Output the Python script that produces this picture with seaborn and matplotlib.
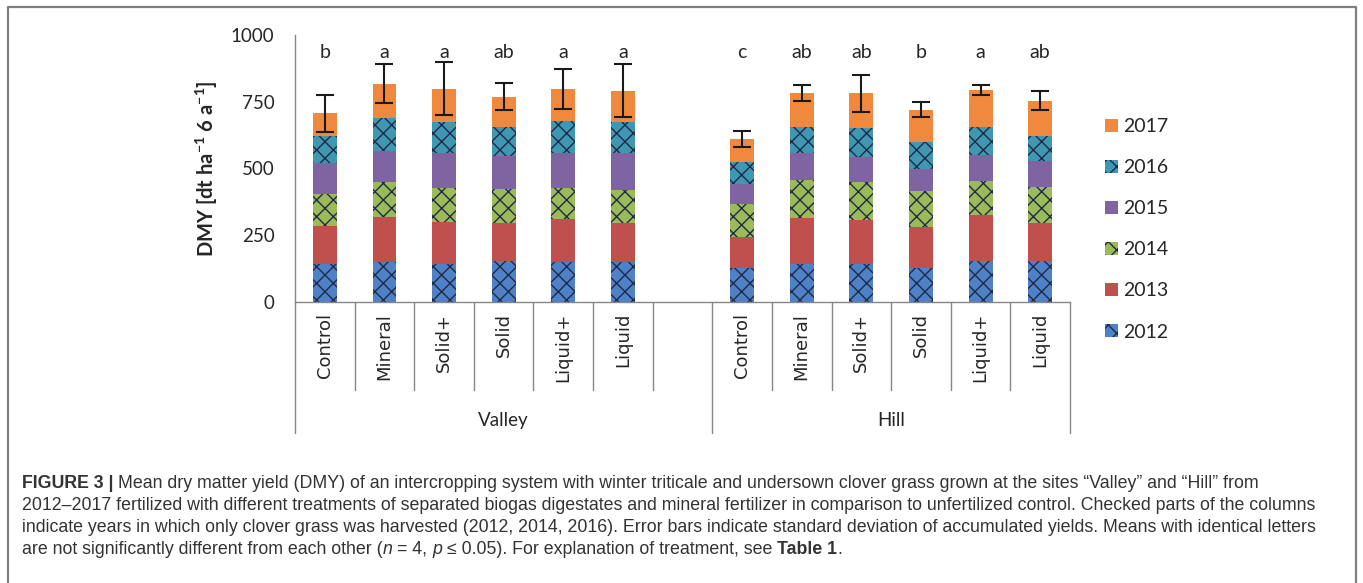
import numpy as np
import pandas as pd
import matplotlib
matplotlib.use("Agg")
import matplotlib.pyplot as plt
from matplotlib.patches import Patch
from matplotlib.lines import Line2D
import seaborn as sns

# ---------------------------------------------------------------- data
sites = ["Valley", "Hill"]
treatments = ["Control", "Mineral", "Solid+", "Solid", "Liquid+", "Liquid"]
years = ["2012", "2013", "2014", "2015", "2016", "2017"]

# annual dry matter yield [dt/ha], Valley treatments first, then Hill
dmy_2012 = [140, 147, 140, 152, 147, 147, 125, 140, 140, 125, 152, 152]
dmy_2013 = [143, 169, 157, 142, 162, 147, 119, 172, 166, 154, 173, 144]
dmy_2014 = [121, 131, 128, 127, 116, 125, 122, 144, 141, 136, 127, 135]
dmy_2015 = [117, 119, 131, 125, 131, 137, 75, 100, 97, 82, 98, 96]
dmy_2016 = [100, 124, 116, 110, 123, 116, 81, 100, 106, 100, 106, 95]
dmy_2017 = [85, 127, 127, 113, 120, 119, 87, 125, 131, 122, 138, 132]

# standard deviation of the accumulated yield and significance letters
sd_total = [69, 73, 99, 52, 75, 99, 30, 30, 70, 28, 20, 35]
letters = ["b", "a", "a", "ab", "a", "a", "c", "ab", "ab", "b", "a", "ab"]

yticks = [0, 250, 500, 750, 1000]

year_colors = {"2012": "#4f81c7", "2013": "#c0504d", "2014": "#9bbb59",
               "2015": "#8064a2", "2016": "#3f97b2", "2017": "#f0893e"}
year_hatch = {"2012": "xx", "2013": "", "2014": "xx",
              "2015": "", "2016": "xx", "2017": ""}
HATCH_COLOR = "#1f2a48"
AXIS_GREY = "#868686"
TEXT_DARK = "#262626"

# ---------------------------------------------------------------- table
keys = [f"{s}|{t}" for s in sites for t in treatments]
order = keys[:6] + ["gap"] + keys[6:]

series = [dmy_2012, dmy_2013, dmy_2014, dmy_2015, dmy_2016, dmy_2017]
rows = []
for yr, vals in zip(years, series):
    for k, v in zip(keys, vals):
        rows.append({"key": k, "year": yr, "dmy": v})
df = pd.DataFrame(rows)
df["cum"] = df.groupby("key")["dmy"].cumsum()
totals = df.groupby("key")["dmy"].sum().reindex(keys)

# ---------------------------------------------------------------- style
sns.set_style("white")
plt.rcParams["font.family"] = ["Lato", "DejaVu Sans"]
plt.rcParams["hatch.linewidth"] = 1.0
plt.rcParams["mathtext.fontset"] = "custom"
plt.rcParams["mathtext.rm"] = "Lato"
plt.rcParams["mathtext.bf"] = "Lato:bold"

W, H = 1363, 583
fig = plt.figure(figsize=(W / 100, H / 100), dpi=100)
fig.patch.set_facecolor("white")
ax = fig.add_axes([295 / W, 1 - 301.7 / H, (1070 - 295) / W, 266.7 / H])

# stacked columns: draw cumulative totals from the top year downwards
for yr in reversed(years):
    sub = df[df["year"] == yr]
    sns.barplot(data=sub, x="key", y="cum", order=order, ax=ax,
                color=year_colors[yr], saturation=1, width=0.40,
                errorbar=None, hatch=year_hatch[yr],
                edgecolor=HATCH_COLOR, linewidth=0)

pos = [order.index(k) for k in keys]
ax.errorbar(pos, totals.values, yerr=sd_total, fmt="none",
            ecolor="#1a1a1a", elinewidth=1.5, capsize=6.5, capthick=1.5,
            zorder=5)

for p, lab in zip(pos, letters):
    ax.text(p, 935, lab, ha="center", va="center", fontsize=14,
            color=TEXT_DARK)

# axes
ax.set_ylim(0, 1000)
ax.set_xlim(-0.5, len(order) - 0.5)
ax.set_yticks(yticks)
ax.set_yticklabels([str(v) for v in yticks], fontsize=13.5, color=TEXT_DARK)
ax.tick_params(axis="y", length=5.8, width=1, color=AXIS_GREY, pad=9)
ax.set_xticks(range(len(order)))
ax.set_xticklabels([k.split("|")[1] if "|" in k else "" for k in order],
                   rotation=90, va="top", ha="center", color=TEXT_DARK)
ax.tick_params(axis="x", length=0, pad=8, labelsize=13,
               labelfontfamily="DejaVu Sans")
ax.set_xlabel("")
for side in ["top", "right"]:
    ax.spines[side].set_visible(False)
for side in ["left", "bottom"]:
    ax.spines[side].set_color(AXIS_GREY)
    ax.spines[side].set_linewidth(1)

ax.set_ylabel(r"DMY [dt ha$^{\mathbf{-1}}$ 6 a$^{\mathbf{-1}}$]",
              fontsize=14.5, fontweight="bold", color=TEXT_DARK)
ax.yaxis.set_label_coords(-0.097, 0.5)

# category dividers below the axis
tr = ax.get_xaxis_transform()
short_end, long_end = -0.331, -0.492
for i in range(len(order) + 1):
    xb = i - 0.5
    y1 = long_end if i in (0, 7, len(order)) else short_end
    ax.add_line(Line2D([xb, xb], [0, y1], transform=tr, color=AXIS_GREY,
                       lw=1, clip_on=False))

# site labels
ax.text(3.0, -0.444, "Valley", transform=tr, ha="center", va="center",
        fontsize=13.5, color=TEXT_DARK)
ax.text(9.5, -0.444, "Hill", transform=tr, ha="center", va="center",
        fontsize=13.5, color=TEXT_DARK)

# legend
handles = [Patch(facecolor=year_colors[y], hatch=year_hatch[y],
                 edgecolor=HATCH_COLOR, linewidth=0) for y in reversed(years)]
ax.legend(handles, list(reversed(years)), loc="upper left",
          bbox_to_anchor=(1105 / W, 1 - 118 / H),
          bbox_transform=fig.transFigure, frameon=False, fontsize=14,
          handlelength=0.65, handleheight=0.65, handletextpad=0.3,
          labelspacing=1.24, borderpad=0, borderaxespad=0,
          labelcolor=TEXT_DARK)

# outer frame
fx0, fx1, fy = 7.5 / W, 1356 / W, 1 - 6.5 / H
fig.add_artist(Line2D([fx0, fx0, fx1, fx1], [0, fy, fy, 0],
                      transform=fig.transFigure, color="#7f7f7f", lw=1.6))

# caption
cap_family = ["Liberation Sans Narrow", "Liberation Sans", "DejaVu Sans"]
cap_size = 12.75
cap_color = "#333333"
renderer = fig.canvas.get_renderer()


def text_width(s, **kw):
    t = fig.text(0, 0, s, fontsize=cap_size, family=cap_family, **kw)
    w = t.get_window_extent(renderer).width
    t.remove()
    return w


space_w = text_width("a a") - text_width("aa")

caption = [
    [("FIGURE 3 |", {"weight": "bold"}),
     (" Mean dry matter yield (DMY) of an intercropping system with winter "
      "triticale and undersown clover grass grown at the sites \u201cValley\u201d "
      "and \u201cHill\u201d from", {})],
    [("2012\u20132017 fertilized with different treatments of separated biogas "
      "digestates and mineral fertilizer in comparison to unfertilized control. "
      "Checked parts of the columns", {})],
    [("indicate years in which only clover grass was harvested (2012, 2014, "
      "2016). Error bars indicate standard deviation of accumulated yields. "
      "Means with identical letters", {})],
    [("are not significantly different from each other (", {}),
     ("n", {"style": "italic"}), (" = 4, ", {}), ("p", {"style": "italic"}),
     (" \u2264 0.05). For explanation of treatment, see ", {}),
     ("Table 1", {"weight": "bold"}), (".", {})],
]
baselines = [488, 510, 532, 554]
for line, yb in zip(caption, baselines):
    x = 22.0
    for txt, kw in line:
        lead = len(txt) - len(txt.lstrip(" "))
        trail = len(txt) - len(txt.rstrip(" "))
        core = txt.strip(" ")
        x += lead * space_w
        t = fig.text(x / W, 1 - yb / H, core, fontsize=cap_size,
                     family=cap_family, color=cap_color, va="baseline",
                     ha="left", **kw)
        x += t.get_window_extent(renderer).width + trail * space_w

fig.savefig("out.png", dpi=100, facecolor="white")
